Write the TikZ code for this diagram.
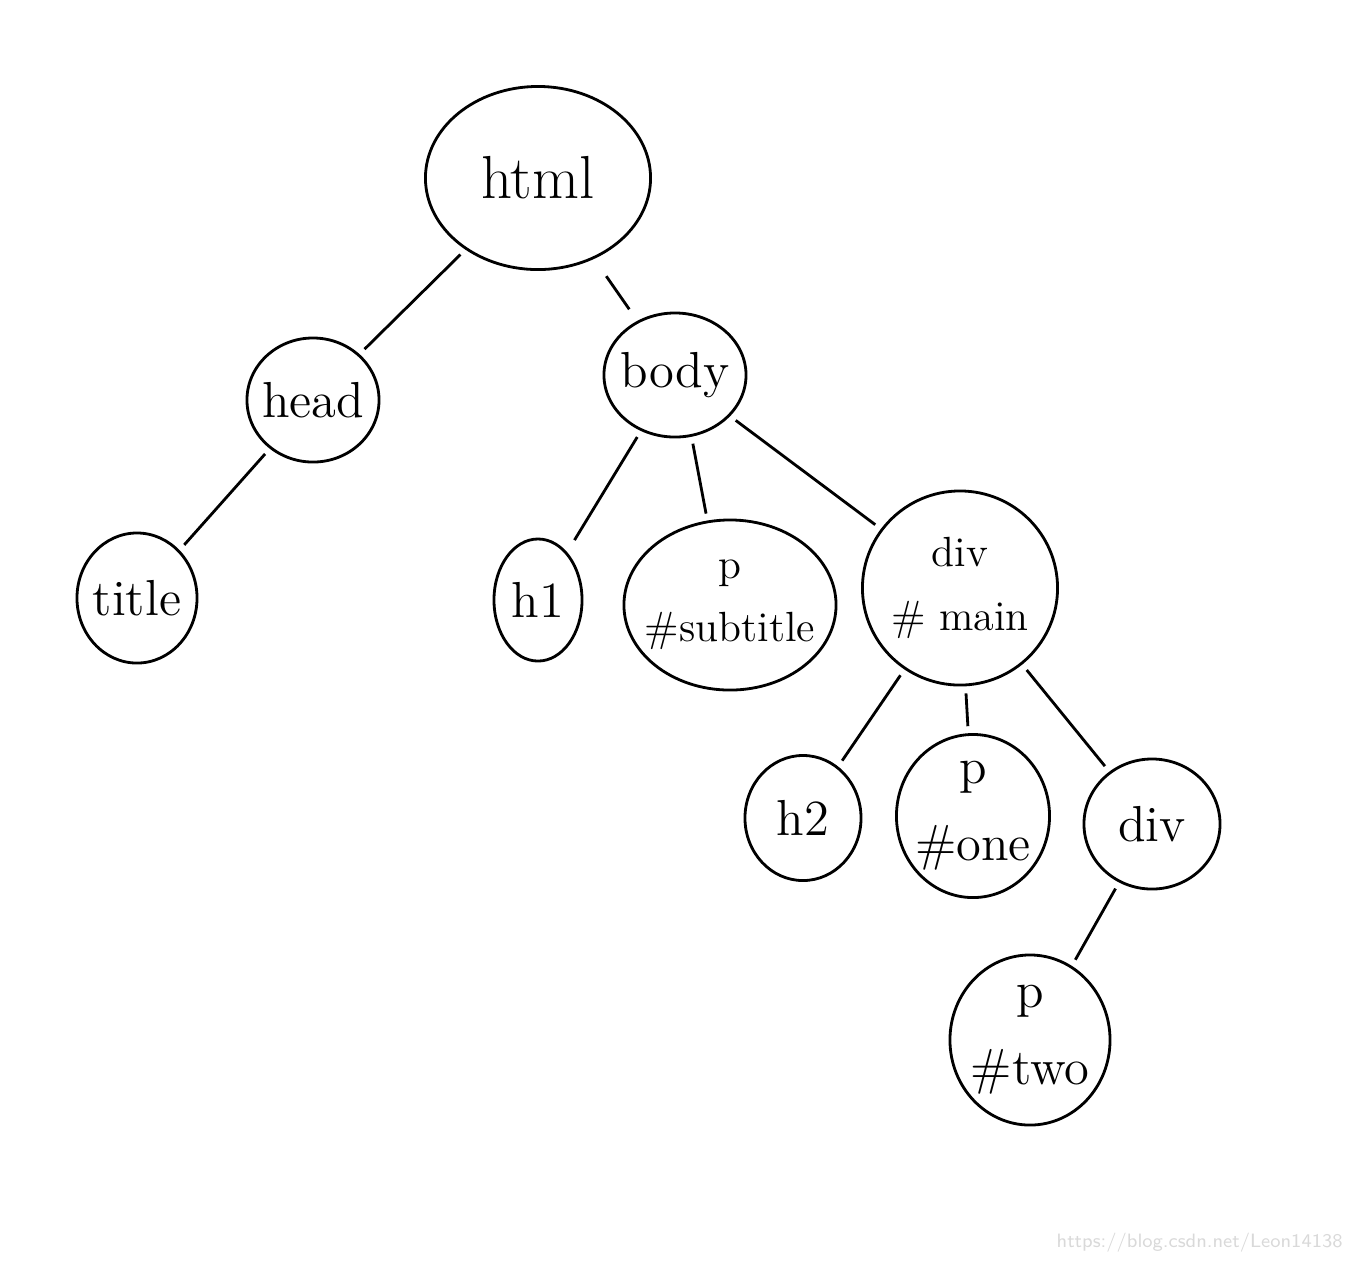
\documentclass[tikz,border=0pt]{standalone}
\usepackage{tikz}
\usetikzlibrary{shapes.geometric}

\begin{document}
\begin{tikzpicture}[x=0.01cm, y=-0.01cm,
		tag/.style={draw, thick, ellipse, inner sep=-8pt, align=center, font=\Large},
		link/.style={thick, shorten <=2pt, shorten >=2pt}]
	\useasboundingbox (0,0) rectangle (1360,1262);
	% root and first level
	\node[tag, minimum width=2.25cm, minimum height=1.83cm, font=\LARGE] (html) at (538,178) {html};
	\node[tag, minimum width=1.32cm, minimum height=1.24cm] (head) at (313,400) {head};
	\node[tag, minimum width=1.42cm, minimum height=1.24cm] (body) at (675,375) {body};
	% second level
	\node[tag, minimum width=1.2cm, minimum height=1.3cm] (title) at (137,598) {title};
	\node[tag, minimum width=0.88cm, minimum height=1.22cm] (hone) at (538,600) {h1};
	\node[tag, minimum width=2.12cm, minimum height=1.7cm, font=\large] (psub) at (730,605) {p\\[4pt]\#subtitle};
	\node[tag, minimum width=1.95cm, minimum height=1.94cm, font=\large] (divmain) at (960,588) {div\\[4pt]\# main};
	% third level
	\node[tag, minimum width=1.16cm, minimum height=1.25cm] (htwo) at (803,818) {h2};
	\node[tag, minimum width=1.53cm, minimum height=1.63cm] (pone) at (973,816) {p\\[4pt]\#one};
	\node[tag, minimum width=1.36cm, minimum height=1.3cm] (divin) at (1152,824) {div};
	\node[tag, minimum width=1.6cm, minimum height=1.7cm] (ptwo) at (1030,1040) {p\\[4pt]\#two};

	\draw[link] (html) -- (head);
	\draw[link, shorten <=6pt, shorten >=4pt] (html) -- (body);
	\draw[link] (head) -- (title);
	\draw[link, shorten >=4pt] (body) -- (hone);
	\draw[link] (body.-75) -- (psub.105);
	\draw[link] (body) -- (divmain);
	\draw[link] (divmain) -- (htwo);
	\draw[link] (divmain) -- (pone);
	\draw[link] (divmain) -- (divin);
	\draw[link] (divin) -- (ptwo);

	\node[font=\fontsize{5.5}{6}\selectfont\sffamily, text=gray!30, anchor=east] (mark) at (1355,1243) {https://blog.csdn.net/Leon14138};
\end{tikzpicture}
\end{document}
